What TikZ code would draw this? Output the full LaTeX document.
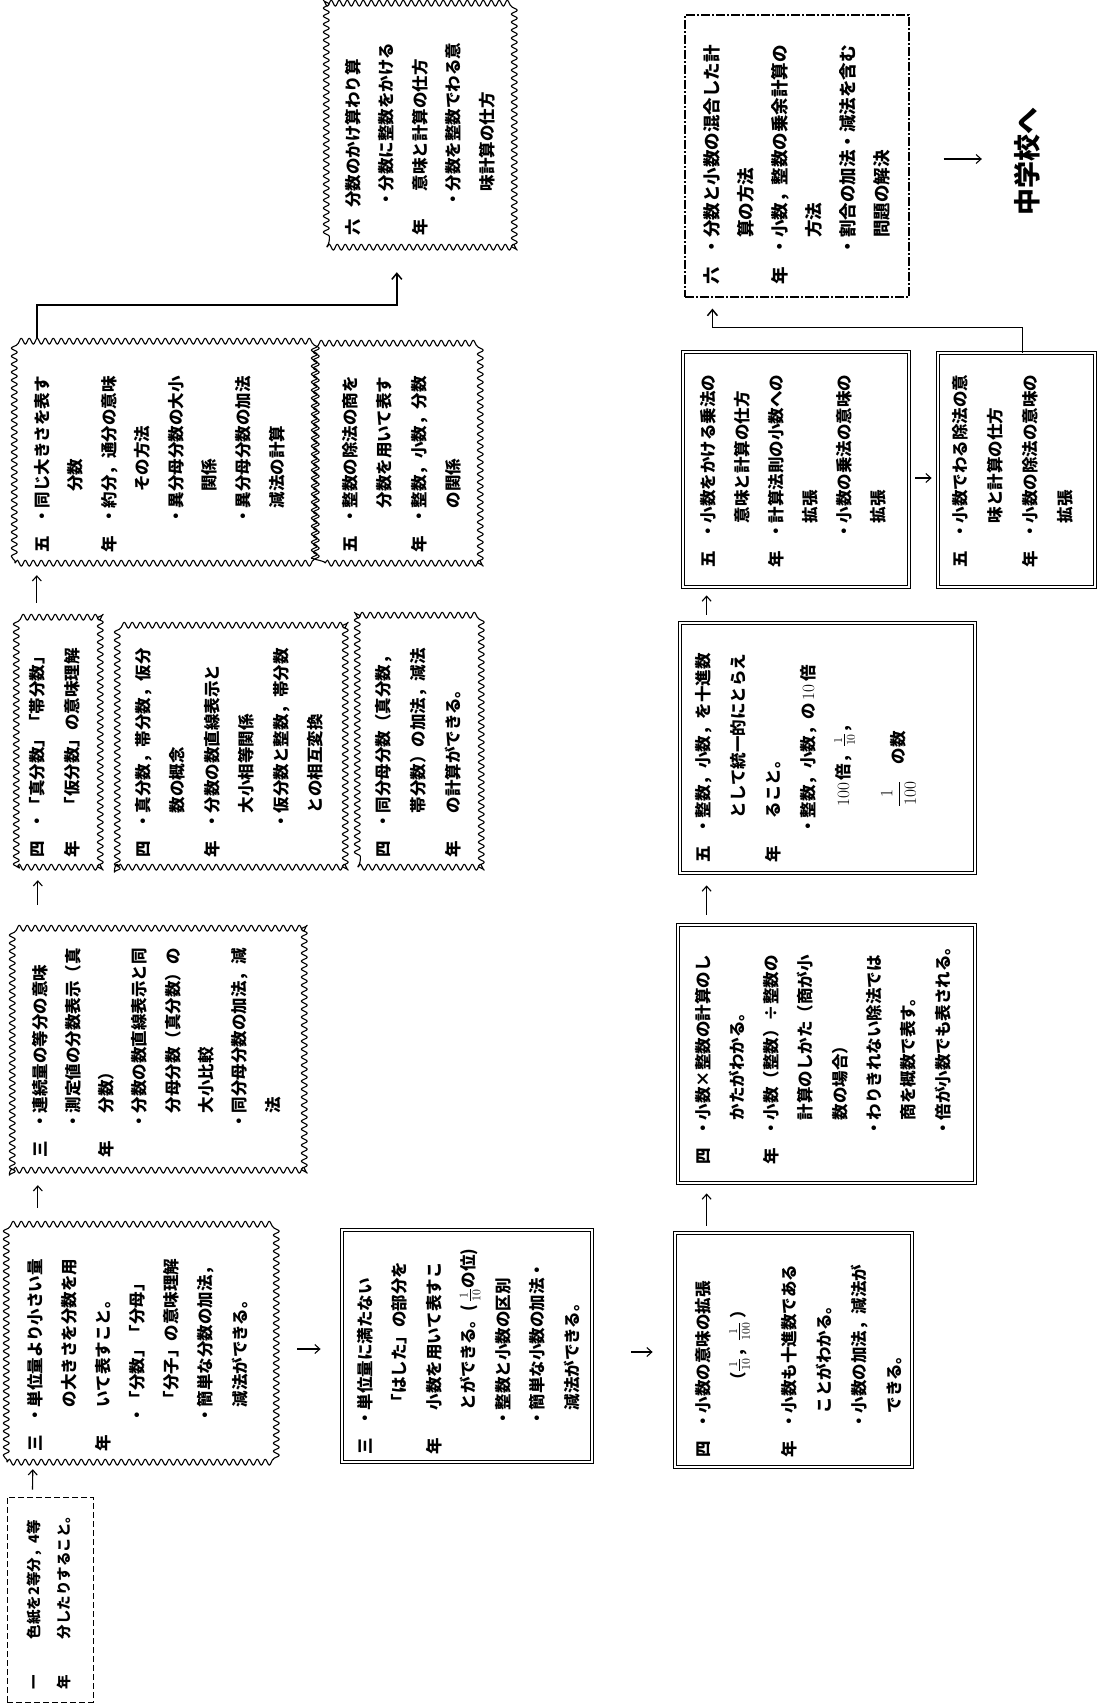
\documentclass[tikz,border=0pt]{standalone}
\usepackage{fontspec}
\newfontfamily\jpfont{Noto Sans CJK JP}
\usetikzlibrary{arrows.meta,decorations.pathmorphing,calc}
\newcommand\grd[1]{\makebox[1.7em][l]{#1}}
\newcommand\bul{\makebox[1em][c]{・}}
\newcommand\bbl{\hspace*{1.7em}\bul}
\newcommand\nbl{\hspace*{1em}}
\newcommand\indt{\hspace*{2.7em}}
\newcommand\boxrows[1]{\begin{tabular}[t]{@{}l@{}}#1\end{tabular}}
\begin{document}
\begin{tikzpicture}[x=1pt,y=-1pt,
  wnode/.style={inner sep=0pt},
  wavy/.style={line width=1.1pt, line join=round, decorate, decoration={snake, segment length=8pt, amplitude=3pt}},
  dbox/.style={draw, line width=0.8pt, double, double distance=1.8pt, inner sep=0pt},
  abox/.style={draw, line width=1pt, dash pattern=on 6pt off 3pt, inner sep=0pt},
  pbox/.style={draw, line width=1.1pt, dash pattern=on 9pt off 2pt on 2pt off 2pt, inner sep=0pt},
  txt/.style={rotate=90, anchor=base west, inner sep=0pt, font=\jpfont\bfseries\fontsize{16.5pt}{#1pt}\selectfont},
  arr/.style={line width=1.1pt, -{Straight Barb[length=5pt,width=9pt]}},
  conn/.style={line width=1.5pt, -{Straight Barb[length=6pt,width=10pt]}}
]
\fill[white] (0,0) rectangle (1098,1706);
\useasboundingbox (0,0) rectangle (1098,1706);

% ---------- row 1 ----------
\node[abox, minimum width=86pt, minimum height=205pt] (A) at (50,1599.5) {};
\node[txt=30, font=\jpfont\bfseries\fontsize{14.5pt}{30pt}\selectfont] (At) at (39,1690) {\boxrows{%
\grd{一}\hspace*{1.8em}色紙を2等分，4等\\
\grd{年}\hspace*{1.8em}分したりすること。}};

\node[wnode, minimum width=263pt, minimum height=234pt] (B) at (138.5,1345) {};
\draw[wavy] (B.south west) -- (B.south east) -- (B.north east) -- (B.north west) -- cycle;
\node[txt=34.2] (Bt) at (41,1452) {\boxrows{%
\grd{三}\bul 単位量より小さい量\\
\indt の大きさを分数を用\\
\grd{年}\nbl いて表すこと。\\
\bbl 「分数」「分母」\\
\indt 「分子」の意味理解\\
\bbl 簡単な分数の加法，\\
\indt 減法ができる。}};

\node[wnode, minimum width=292pt, minimum height=248pt] (C) at (159,1046) {};
\draw[wavy] (C.south west) -- (C.south east) -- (C.north east) -- (C.north west) -- cycle;
\node[txt=33.3] (Ct) at (46,1158) {\boxrows{%
\grd{三}\bul 連続量の等分の意味\\
\bbl 測定値の分数表示（真\\
\grd{年}\nbl 分数）\\
\bbl 分数の数直線表示と同\\
\indt 分母分数（真分数）の\\
\indt 大小比較\\
\bbl 同分母分数の加法，減\\
\indt 法}};

\node[wnode, minimum width=86pt, minimum height=252pt] (D) at (60,741) {};
\draw[wavy] (D.south west) -- (D.south east) -- (D.north east) -- (D.north west) -- cycle;
\node[txt=35] (Dt) at (43,858) {\boxrows{%
\grd{四}\bul 「真分数」「帯分数」\\
\grd{年}\nbl 「仮分数」の意味理解}};

\node[wnode, minimum width=227pt, minimum height=250pt] (E) at (231.5,742) {};
\draw[wavy] (E.south west) -- (E.south east) -- (E.north east) -- (E.north west) -- cycle;
\node[txt=34.5] (Et) at (149,858) {\boxrows{%
\grd{四}\bul 真分数，帯分数，仮分\\
\indt 数の概念\\
\grd{年}\bul 分数の数直線表示と\\
\indt 大小相等関係\\
\bbl 仮分数と整数，帯分数\\
\indt との相互変換}};

\node[wnode, minimum width=124pt, minimum height=250pt] (F) at (420,742) {};
\draw[wavy] (F.south west) -- (F.south east) -- (F.north east) -- (F.north west) -- cycle;
\node[txt=35] (Ft) at (389,858) {\boxrows{%
\grd{四}\bul 同分母分数（真分数，\\
\indt 帯分数）の加法，減法\\
\grd{年}\nbl の計算ができる。}};

\node[wnode, minimum width=295pt, minimum height=218pt] (G) at (162.5,454) {};
\draw[wavy] (G.south west) -- (G.south east) -- (G.north east) -- (G.north west) -- cycle;
\node[txt=33.6] (Gt) at (48,553) {\boxrows{%
\grd{五}\bul 同じ大きさを表す\\
\indt\hspace*{1em}分数\\
\grd{年}\bul 約分，通分の意味\\
\indt\hspace*{1em}その方法\\
\bbl 異分母分数の大小\\
\indt\hspace*{1em}関係\\
\bbl 異分母分数の加法\\
\indt 減法の計算}};

\node[wnode, minimum width=158pt, minimum height=218pt] (H) at (404,454) {};
\draw[wavy] (H.south west) -- (H.south east) -- (H.north east) -- (H.north west) -- cycle;
\node[txt=34.5] (Ht) at (356,553) {\boxrows{%
\grd{五}\bul 整数の除法の商を\\
\indt 分数を用いて表す\\
\grd{年}\bul 整数，小数，分数\\
\indt の関係}};

\node[wnode, minimum width=190pt, minimum height=240pt] (I) at (422,127) {};
\draw[wavy] (I.south west) -- (I.south east) -- (I.north east) -- (I.north west) -- cycle;
\node[txt=33.5] (It) at (359,236) {\boxrows{%
\grd{六}分数のかけ算わり算\\
\bbl 分数に整数をかける\\
\grd{年}\nbl 意味と計算の仕方\\
\bbl 分数を整数でわる意\\
\indt 味計算の仕方}};

% ---------- row 2 ----------
\node[dbox, minimum width=250pt, minimum height=232pt] (J) at (467,1346) {};
\node[txt=34.5] (Jt) at (371,1455) {\boxrows{%
\grd{三}\bul 単位量に満たない\\
\indt 「はした」の部分を\\
\grd{年}\nbl 小数を用いて表すこ\\
\indt とができる。(\,$\frac{1}{10}$の位)\\
\bbl 整数と小数の区別\\
\bbl 簡単な小数の加法・\\
\indt 減法ができる。}};

% ---------- row 3 ----------
\node[dbox, minimum width=237pt, minimum height=234pt] (K) at (793.5,1350) {};
\node[txt=35] (Kt) at (709,1458) {\boxrows{%
\grd{四}\bul 小数の意味の拡張\\
\hspace*{4.2em}（$\frac{1}{10}$，$\frac{1}{100}$\,）\\[16pt]
\grd{年}\bul 小数も十進数である\\
\indt ことがわかる。\\
\bbl 小数の加法，減法が\\
\indt できる。}};

\node[dbox, minimum width=297pt, minimum height=258pt] (L) at (826.5,1054) {};
\node[txt=34.3] (Lt) at (709,1165) {\boxrows{%
\grd{四}\bul 小数×整数の計算のし\\
\indt かたがわかる。\\
\grd{年}\bul 小数（整数）÷整数の\\
\indt 計算のしかた（商が小\\
\indt 数の場合）\\
\bbl わりきれない除法では\\
\indt 商を概数で表す。\\
\bbl 倍が小数でも表される。}};

\node[dbox, minimum width=295pt, minimum height=250pt] (M) at (827.5,748) {};
\node[txt=35] (Mt) at (709,863) {\boxrows{%
\grd{五}\bul 整数，小数，を十進数\\
\indt として統一的にとらえ\\
\grd{年}\nbl ること。\\
\bbl 整数，小数，の\,$10$\,倍\\
\indt\hspace*{0.7em}$100$\,倍，$\frac{1}{10}$，\\[20pt]
\indt\hspace*{0.7em}$\displaystyle\frac{1}{100}$\quad の数}};

\node[dbox, minimum width=226pt, minimum height=235pt] (N) at (796,469.5) {};
\node[txt=34] (Nt) at (714,568) {\boxrows{%
\grd{五}\bul 小数をかける乗法の\\
\indt 意味と計算の仕方\\
\grd{年}\bul 計算法則の小数への\\
\indt 拡張\\
\bbl 小数の乗法の意味の\\
\indt 拡張}};

\node[dbox, minimum width=157pt, minimum height=234pt] (O) at (1016.5,470) {};
\node[txt=35] (Ot) at (966,568) {\boxrows{%
\grd{五}\bul 小数でわる除法の意\\
\indt 味と計算の仕方\\
\grd{年}\bul 小数の除法の意味の\\
\indt 拡張}};

\node[pbox, minimum width=224pt, minimum height=282pt] (P) at (797,156) {};
\node[txt=34, font=\jpfont\bfseries\fontsize{17.5pt}{34pt}\selectfont] (Pt) at (718,285) {\boxrows{%
\grd{六}\bul 分数と小数の混合した計\\
\indt 算の方法\\
\grd{年}\bul 小数，整数の乗余計算の\\
\indt 方法\\
\bbl 割合の加法・減法を含む\\
\indt 問題の解決}};

\node[rotate=90, inner sep=0pt, font=\jpfont\bfseries\fontsize{27pt}{27pt}\selectfont] (Z) at (1027,161) {中学校へ};

% ---------- arrows ----------
\draw[arr] ([xshift=26pt,yshift=7pt]A.north west) -- ([xshift=26pt,yshift=-7pt]B.south west);
\draw[arr] ([xshift=31pt,yshift=20pt]B.north west) -- ([xshift=25pt,yshift=-15pt]C.south west);
\draw[arr] ([xshift=25pt,yshift=17pt]C.north west) -- ([xshift=21pt,yshift=-13pt]D.south west);
\draw[arr] ([xshift=20pt,yshift=12pt]D.north west) -- ([xshift=22pt,yshift=-12pt]G.south west);
\draw[conn] ([xshift=22pt,yshift=7pt]G.north west) -- ++(0,-33) -| ([xshift=70pt,yshift=-25pt]I.south west);

\draw[arr] ([xshift=27pt,yshift=-4pt]B.east) -- ([xshift=-21pt,yshift=-3pt]J.west);
\draw[arr] ([xshift=39pt,yshift=-6pt]J.east) -- ([xshift=-22pt,yshift=-2pt]K.west);

\draw[arr] ([xshift=32pt,yshift=7pt]K.north west) -- ([xshift=29pt,yshift=-10pt]L.south west);
\draw[arr] ([xshift=29pt,yshift=10pt]L.north west) -- ([xshift=27pt,yshift=-12pt]M.south west);
\draw[arr] ([xshift=27pt,yshift=8pt]M.north west) -- ([xshift=24pt,yshift=-8pt]N.south west);
\draw[arr] ([xshift=6pt,yshift=-8.5pt]N.east) -- ([xshift=-6pt,yshift=-8pt]O.west);
\draw[conn] ([xshift=6pt]O.north) -- ++(0,-25) -| ([xshift=28pt,yshift=-11pt]P.south west);
\draw[arr] ([xshift=34pt,yshift=-3pt]P.east) -- ([xshift=-32pt,yshift=2pt]Z.north);
\end{tikzpicture}
\end{document}
